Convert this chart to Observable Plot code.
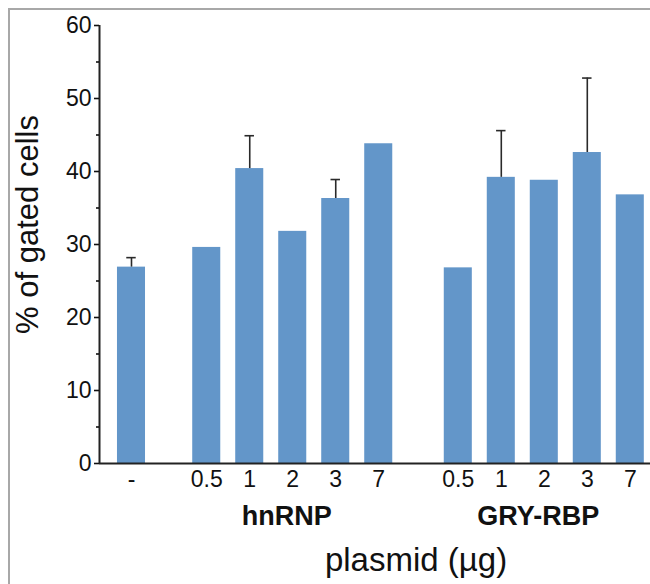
<!DOCTYPE html>
<html><head><meta charset="utf-8">
<script src="https://cdn.jsdelivr.net/npm/d3@7"></script>
<script src="https://cdn.jsdelivr.net/npm/@observablehq/plot@0.6"></script>
<style>
body{margin:0;background:#fff;}
#wrap{position:relative;width:650px;height:584px;overflow:hidden;font-family:"Liberation Sans",Arial,sans-serif;color:#111;}
#frame{position:absolute;left:8px;top:8px;width:700px;height:700px;border-top:2px solid #a8a8a8;border-left:2px solid #a8a8a8;pointer-events:none}
#chart{position:absolute;left:0;top:0}
</style></head><body>
<div id="wrap"><div id="chart"></div><div id="frame"></div></div>
<script>
// ---- data ----
const controlLabel = "-";
const controlMean = 26.9;
const controlErr = 1.3;
const groupNames = ["hnRNP", "GRY-RBP"];
const doses = ["0.5", "1", "2", "3", "7"];
const hnRNPMeans = [29.6, 40.4, 31.8, 36.3, 43.8];
const hnRNPErr = [0, 4.5, 0, 2.6, 0];
const gryMeans = [26.8, 39.2, 38.8, 42.6, 36.8];
const gryErr = [0, 6.4, 0, 10.2, 0];
const yTicks = [0, 10, 20, 30, 40, 50, 60];
const yMinorTicks = [5, 15, 25, 35, 45, 55];
const yTitle = "% of gated cells";
const xTitle = "plasmid (µg)";

// ---- layout (slot positions on a linear x scale) ----
const groupStart = [1.75, 7.6];
const barHalf = 0.326;
const xDomain = [-0.744, 12.07];

const rows = [{pos: 0, label: controlLabel, mean: controlMean, err: controlErr}];
[hnRNPMeans, gryMeans].forEach((means, g) => {
  const errs = g === 0 ? hnRNPErr : gryErr;
  means.forEach((m, i) => rows.push({pos: groupStart[g] + i, label: doses[i], mean: m, err: errs[i]}));
});
const errRows = rows.filter(d => d.err > 0);
const groups = groupNames.map((name, g) => ({name, pos: groupStart[g] + 2}));

const chart = Plot.plot({
  width: 650,
  height: 584,
  marginLeft: 99,
  marginRight: 0,
  marginTop: 25,
  marginBottom: 121,
  style: {fontFamily: '"Liberation Sans", Arial, sans-serif', fontSize: "22px", background: "transparent", color: "#111"},
  x: {type: "linear", domain: xDomain, axis: null},
  y: {domain: [0, 60], axis: null},
  marks: [
    Plot.rectY(rows, {x1: d => d.pos - barHalf, x2: d => d.pos + barHalf, y1: 0, y2: "mean", fill: "#6396c9"}),
    Plot.ruleX(errRows, {x: "pos", y1: "mean", y2: d => d.mean + d.err, stroke: "#2a2a2a", strokeWidth: 1.6}),
    Plot.ruleY(errRows, {y: d => d.mean + d.err, x1: d => d.pos - 0.11, x2: d => d.pos + 0.11, stroke: "#2a2a2a", strokeWidth: 1.6}),
    Plot.ruleY([0], {stroke: "#222", strokeWidth: 2}),
    Plot.ruleX([xDomain[0]], {y1: 0, y2: 60, stroke: "#222", strokeWidth: 2}),
    Plot.axisY({ticks: yTicks, tickSize: 5, tickFormat: () => "", strokeWidth: 1.6, label: null}),
    Plot.axisY({ticks: yMinorTicks, tickSize: 3, tickFormat: () => "", strokeWidth: 1.6, label: null}),
    Plot.text(yTicks, {x: xDomain[0], y: d => d, text: d => String(d), textAnchor: "end", dx: -8, fontSize: 23}),
    Plot.text(rows, {x: "pos", y: 0, text: "label", lineAnchor: "top", dy: 7, fontSize: 23}),
    Plot.text(groups, {x: "pos", y: 0, text: "name", dx: -6, dy: 53, fontSize: 27, fontWeight: "bold"}),
    Plot.text([xTitle], {frameAnchor: "bottom", textAnchor: "middle", lineAnchor: "middle", dx: 41, dy: 97, fontSize: 33}),
    Plot.text([yTitle], {frameAnchor: "left", textAnchor: "middle", lineAnchor: "middle", rotate: -90, dx: -71, dy: -20, fontSize: 31})
  ]
});
document.getElementById("chart").appendChild(chart);
</script>
</body></html>
